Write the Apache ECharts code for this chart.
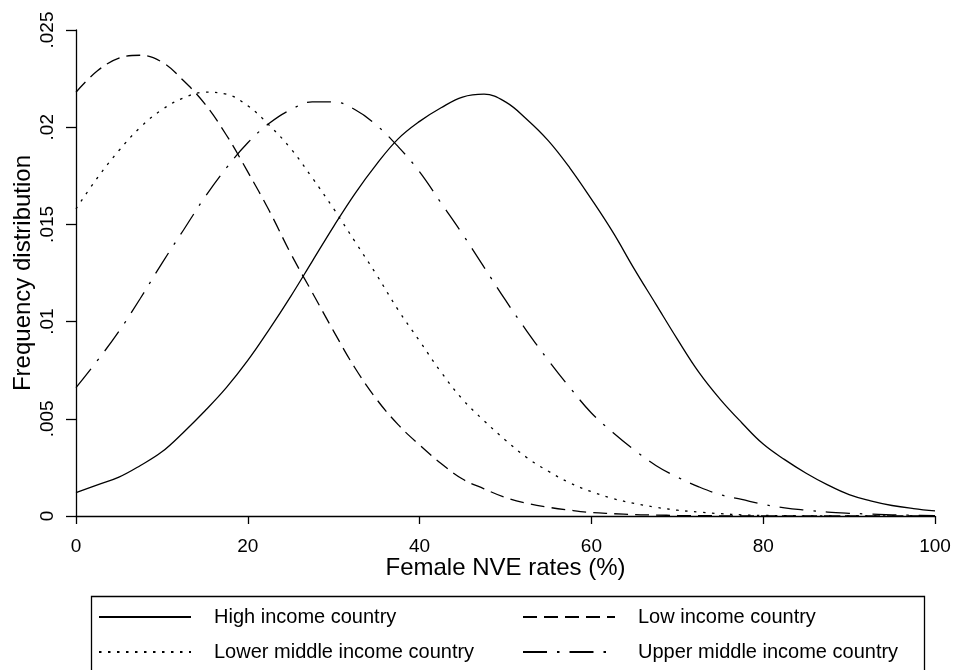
<!DOCTYPE html>
<html>
<head>
<meta charset="utf-8">
<script src="https://cdn.jsdelivr.net/npm/echarts@6/dist/echarts.min.js"></script>
<style>
html,body{margin:0;padding:0;background:#fff;}
#chart{width:967px;height:670px;}
</style>
</head>
<body>
<div id="chart"></div>
<script>
// x positions (Female NVE rates, %)
var xs = [0,2.5,5,7.5,10,12.5,15,17.5,20,22.5,25,27.5,30,32.5,35,37.5,40,42.5,45,47.5,50,52.5,55,57.5,60,62.5,65,67.5,70,72.5,75,77.5,80,82.5,85,87.5,90,92.5,95,97.5,100];

var highIncome = [0.0012,0.0016,0.0020,0.0026,0.0033,0.0043,0.0054,0.0066,0.0080,0.0096,0.0113,0.0131,0.0149,0.0166,0.0181,0.0194,0.0203,0.0210,0.02155,0.0217,0.0213,0.0204,0.0193,0.0179,0.0163,0.0146,0.0127,0.0109,0.0091,0.0074,0.0060,0.0048,0.0037,0.0029,0.0022,0.0016,0.0011,0.00078,0.00054,0.00038,0.00026];

var lowIncome = [0.0218,0.0229,0.02355,0.0237,0.02335,0.0224,0.0212,0.0196,0.0177,0.0157,0.0135,0.0115,0.0095,0.0076,0.0060,0.0047,0.00365,0.0027,0.0019,0.0014,0.00095,0.00065,0.00045,0.0003,0.00018,0.00012,0.00007,0.00005,0.00003,0.00002,0.00001,0.00001,0.00001,0.00001,0,0,0,0,0,0,0];

var lowerMiddleIncome = [0.0158,0.0174,0.0188,0.0200,0.0209,0.0215,0.0218,0.0217,0.0211,0.0201,0.0189,0.0174,0.0158,0.0141,0.0124,0.0106,0.0090,0.0074,0.0060,0.0049,0.0039,0.0030,0.0023,0.0017,0.00125,0.0009,0.00065,0.00045,0.0003,0.0002,0.00012,0.00006,0.00003,0.00002,0.00001,0.00001,0.00001,0,0,0,0];

var upperMiddleIncome = [0.0066,0.0080,0.0095,0.0112,0.0130,0.0147,0.0164,0.0179,0.0192,0.0202,0.0209,0.0213,0.0213,0.0209,0.0201,0.0190,0.0177,0.0161,0.0145,0.0128,0.0111,0.0095,0.0080,0.0066,0.0053,0.0043,0.0034,0.0026,0.0020,0.0015,0.0011,0.00085,0.0006,0.00042,0.0003,0.0002,0.00014,0.0001,0.00006,0.00004,0.00002];

var seriesNames = ['High income country','Low income country','Lower middle income country','Upper middle income country'];
var xTickLabels = ['0','20','40','60','80','100'];
var yTickLabels = ['0','.005','.01','.015','.02','.025'];
var xTitle = 'Female NVE rates (%)';
var yTitle = 'Frequency distribution';

function pairs(ys){ return xs.map(function(x,i){ return [x, ys[i]]; }); }

var FONT = '"Liberation Sans", Arial, sans-serif';
var INK = '#000';

function legendAt(left, names){
  return {
    left:left,top:594,orient:'vertical',
    padding:[13,0,0,9],
    itemWidth:92,itemHeight:20,itemGap:15,
    itemStyle:{opacity:0},
    formatter:function(n){ return '{a|'+n+'}'; },
    textStyle:{fontSize:20,color:INK,fontFamily:FONT,
      rich:{a:{fontSize:20,color:INK,fontFamily:FONT,padding:[0,0,0,18]}}},
    data:names
  };
}

var chart = echarts.init(document.getElementById('chart'), null, {renderer:'canvas'});
chart.setOption({
  backgroundColor:'#fff',
  animation:false,
  textStyle:{fontFamily:FONT,color:INK},
  grid:{left:76,right:32,top:30,bottom:154,containLabel:false},
  xAxis:{
    type:'value',min:0,max:100,interval:20,
    name:xTitle,nameLocation:'middle',nameGap:40,nameMoveOverlap:false,
    nameTextStyle:{fontSize:24,color:INK,fontFamily:FONT},
    axisLine:{show:true,onZero:false,lineStyle:{color:INK,width:1.3}},
    axisTick:{show:true,length:8,lineStyle:{color:INK,width:1.3}},
    axisLabel:{fontSize:19,color:INK,fontFamily:FONT,margin:21,
      formatter:function(v){ var i=Math.round(v/20); return xTickLabels[i]; }},
    splitLine:{show:false}
  },
  yAxis:{
    type:'value',min:0,max:0.025,interval:0.005,
    name:yTitle,nameLocation:'middle',nameGap:41,nameRotate:90,nameMoveOverlap:false,
    nameTextStyle:{fontSize:24,color:INK,fontFamily:FONT},
    axisLine:{show:true,lineStyle:{color:INK,width:1.3}},
    axisTick:{show:true,length:10,lineStyle:{color:INK,width:1.3}},
    axisLabel:{fontSize:19,color:INK,fontFamily:FONT,rotate:90,margin:19,
      formatter:function(v){ var i=Math.round(v/0.005); return yTickLabels[i]; }},
    splitLine:{show:false}
  },
  graphic:[{
    type:'rect',left:89,top:594,silent:true,
    shape:{width:833,height:100},
    style:{fill:'none',stroke:INK,lineWidth:1.3}
  }],
  legend:[
    legendAt(89,[seriesNames[0],seriesNames[2]]),
    legendAt(513,[seriesNames[1],seriesNames[3]])
  ],
  series:[
    {name:seriesNames[0],type:'line',data:pairs(highIncome),smooth:0.4,symbol:'none',
      lineStyle:{color:INK,width:1.3,type:'solid'},itemStyle:{color:INK}},
    {name:seriesNames[1],type:'line',data:pairs(lowIncome),smooth:0.4,symbol:'none',
      lineStyle:{color:INK,width:1.3,type:[14,7]},itemStyle:{color:INK}},
    {name:seriesNames[2],type:'line',data:pairs(lowerMiddleIncome),smooth:0.4,symbol:'none',
      lineStyle:{color:INK,width:1.3,type:[2.5,6.5]},itemStyle:{color:INK}},
    {name:seriesNames[3],type:'line',data:pairs(upperMiddleIncome),smooth:0.4,symbol:'none',
      lineStyle:{color:INK,width:1.3,type:[24,10,2.5,10]},itemStyle:{color:INK}}
  ]
});
</script>
</body>
</html>
